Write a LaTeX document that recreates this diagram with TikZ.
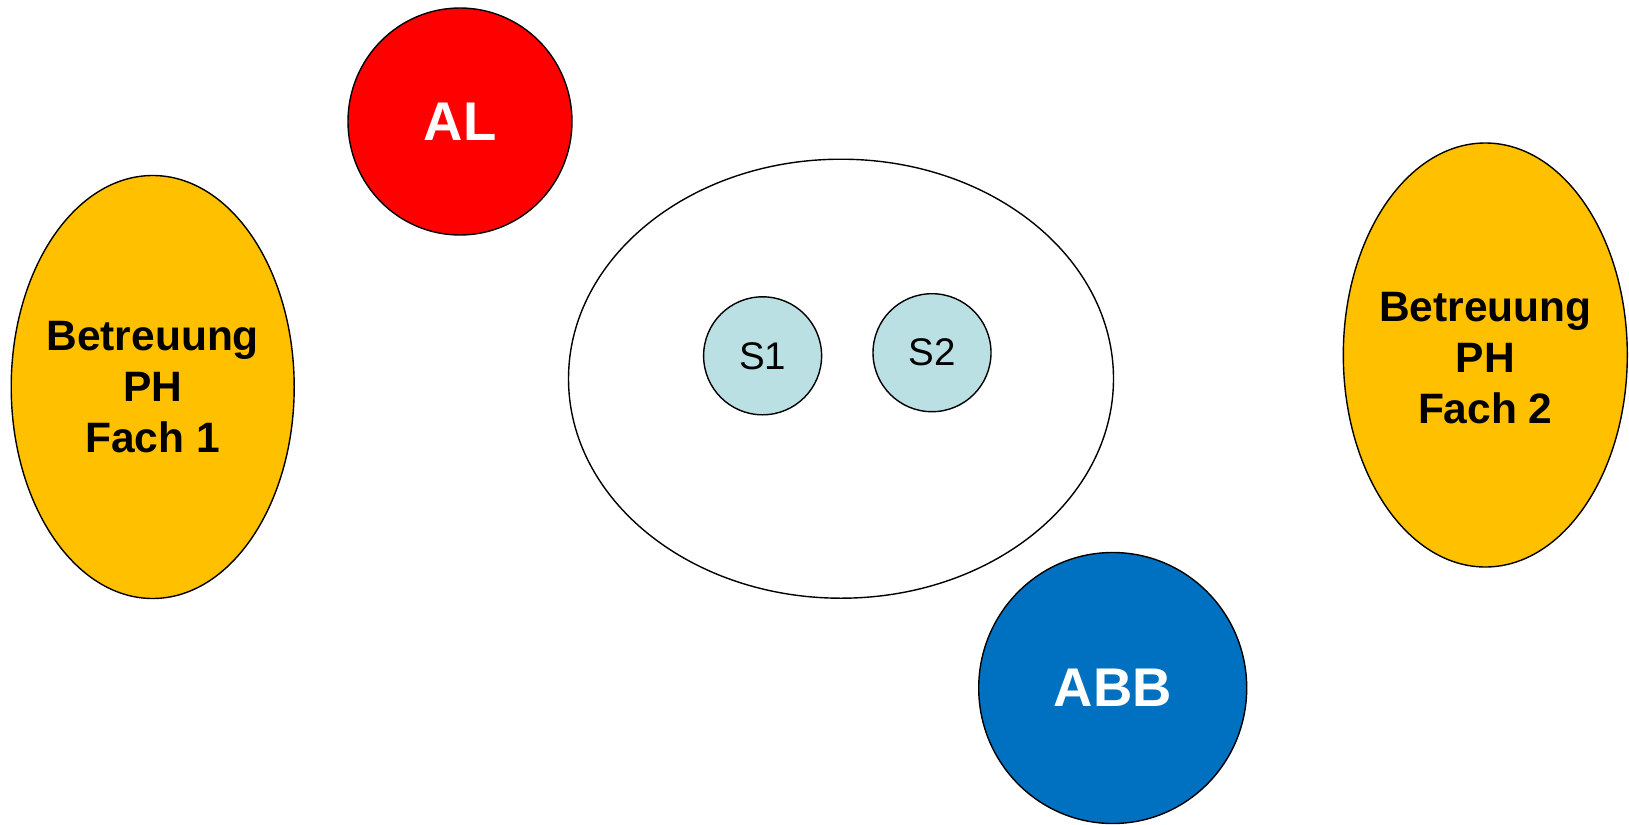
\documentclass[tikz,border=0pt]{standalone}
\usepackage{fontspec}
\setmainfont{Liberation Sans}
\usetikzlibrary{shapes.geometric}
\definecolor{redfill}{RGB}{255,0,0}
\definecolor{orangefill}{RGB}{255,192,0}
\definecolor{bluefill}{RGB}{0,112,192}
\definecolor{lightcyan}{RGB}{187,224,227}
\tikzset{
  blob/.style={ellipse, draw=black, line width=1.4pt, inner sep=0pt, align=center},
  bigtext/.style={font=\fontsize{54.5}{60}\selectfont\bfseries, text=white},
  phtext/.style={font=\fontsize{42.5}{51}\selectfont\bfseries, text=black, align=center, inner sep=0pt},
  stext/.style={font=\fontsize{38.5}{44}\selectfont, text=black}
}
\begin{document}
\begin{tikzpicture}[x=1pt,y=-1pt]
\useasboundingbox (0,0) rectangle (1629,824);
\node[blob, fill=redfill, minimum width=224pt, minimum height=227pt, bigtext] (al) at (460,121.5) {AL};
\node[blob, fill=orangefill, minimum width=283pt, minimum height=423pt,
  label={[phtext]center:Betreuung\\PH\\Fach 1}] (ph1) at (152.7,387) {};
\node[blob, fill=orangefill, minimum width=284pt, minimum height=424pt,
  label={[phtext, yshift=-3pt]center:Betreuung\\PH\\Fach 2}] (ph2) at (1485.3,355) {};
\node[blob, fill=white, minimum width=545pt, minimum height=439pt] (school) at (841,378.7) {};
\node[blob, fill=lightcyan, minimum width=118pt, minimum height=118pt, stext] (s1) at (762.6,355.8) {S1};
\node[blob, fill=lightcyan, minimum width=118pt, minimum height=118pt, stext] (s2) at (932,352.7) {S2};
\node[blob, fill=bluefill, minimum width=268pt, minimum height=271pt, bigtext] (abb) at (1112.7,688) {ABB};
\end{tikzpicture}
\end{document}
